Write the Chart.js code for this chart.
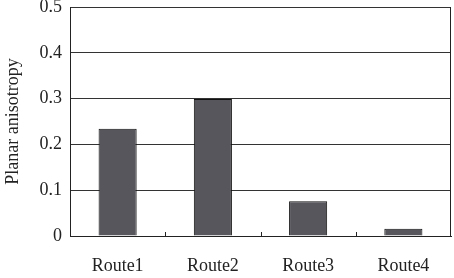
<!DOCTYPE html>
<html>
<head>
<meta charset="utf-8">
<script src="https://cdn.jsdelivr.net/npm/chart.js@4/dist/chart.umd.min.js"></script>
<style>
  html, body { margin: 0; padding: 0; background: #fff; }
  #wrap { width: 454px; height: 278px; }
</style>
</head>
<body>
<div id="wrap"><canvas id="chart" width="454" height="278"></canvas></div>
<script>
const routes = ['Route1', 'Route2', 'Route3', 'Route4'];
const anisotropy = [0.234, 0.299, 0.076, 0.016];
const yTicks = [0, 0.1, 0.2, 0.3, 0.4, 0.5];

// right border + small inward ticks between categories
const framePlugin = {
    id: 'frame',
    afterDraw(chart) {
        const ctx = chart.ctx;
        const area = chart.chartArea;
        const x = chart.scales.x;
        ctx.save();
        ctx.strokeStyle = '#222';
        ctx.lineWidth = 1;
        ctx.beginPath();
        ctx.moveTo(area.right - 0.5, area.top);
        ctx.lineTo(area.right - 0.5, area.bottom);
        for (let i = 1; i < routes.length; i++) {
            const px = Math.round((x.getPixelForValue(i - 1) + x.getPixelForValue(i)) / 2) + 0.5;
            ctx.moveTo(px, area.bottom);
            ctx.lineTo(px, area.bottom - 4);
        }
        ctx.stroke();
        ctx.restore();
    }
};

new Chart(document.getElementById('chart'), {
    type: 'bar',
    data: {
        labels: routes,
        datasets: [{
            data: anisotropy,
            backgroundColor: '#56565c',
            borderColor: '#111',
            borderWidth: 1,
            barPercentage: 0.4,
            categoryPercentage: 1.0
        }]
    },
    options: {
        responsive: false,
        animation: false,
        layout: { padding: { top: 7, right: 3, left: 0, bottom: 0 } },
        plugins: { legend: { display: false }, tooltip: { enabled: false } },
        scales: {
            x: {
                grid: { display: false },
                border: { display: true, color: '#222', width: 1 },
                ticks: {
                    color: '#222',
                    font: { family: 'Liberation Serif', size: 18 },
                    padding: 11
                },
                afterFit(scale) { scale.height = 42; }
            },
            y: {
                min: 0,
                max: 0.5,
                afterBuildTicks(scale) {
                    scale.ticks = yTicks.map(v => ({ value: v }));
                },
                grid: { color: '#333', lineWidth: 1, drawTicks: false },
                border: { display: true, color: '#222', width: 1 },
                ticks: {
                    color: '#222',
                    font: { family: 'Liberation Serif', size: 18 },
                    padding: 8,
                    callback: v => v === 0 ? '0' : v.toFixed(1)
                },
                title: {
                    display: true,
                    text: 'Planar anisotropy',
                    color: '#222',
                    font: { family: 'Liberation Serif', size: 18 },
                    padding: { top: 2, bottom: 4 }
                },
                afterFit(scale) {
                    scale.width = 70;
                    scale.paddingTop = 0;
                    scale.paddingBottom = 0;
                }
            }
        }
    },
    plugins: [framePlugin]
});
</script>
</body>
</html>
